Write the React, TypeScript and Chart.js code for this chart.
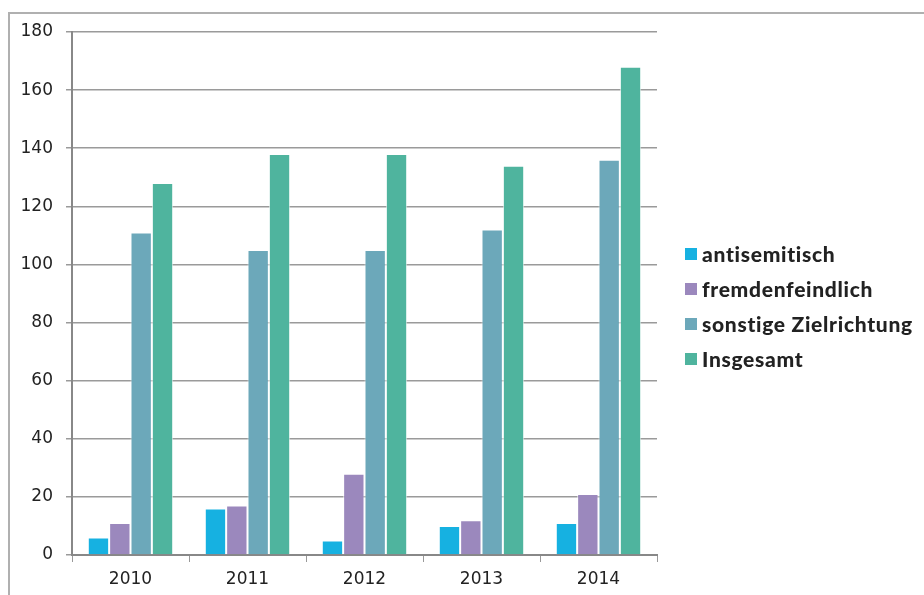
import React, { useEffect, useRef } from "react";
import { Chart, registerables } from "chart.js";

Chart.register(...registerables);

const categories = ["2010", "2011", "2012", "2013", "2014"];
const antisemitisch = [6, 16, 5, 10, 11];
const fremdenfeindlich = [11, 17, 28, 12, 21];
const sonstige = [111, 105, 105, 112, 136];
const insgesamt = [128, 138, 138, 134, 168];
const seriesNames = ["antisemitisch", "fremdenfeindlich", "sonstige Zielrichtung", "Insgesamt"];
const seriesColors = ["#16B1E1", "#9B88BD", "#6CA8BA", "#4FB49E"];
const yTicks = [0, 20, 40, 60, 80, 100, 120, 140, 160, 180];

export default function App() {
  const ref = useRef<HTMLCanvasElement | null>(null);
  useEffect(() => {
    if (!ref.current) return;
    const values = [antisemitisch, fremdenfeindlich, sonstige, insgesamt];
    const chart = new Chart(ref.current, {
      type: "bar",
      data: {
        labels: categories,
        datasets: values.map((v, i) => ({
          label: seriesNames[i],
          data: v,
          backgroundColor: seriesColors[i],
          borderColor: "rgba(255,255,255,0.7)",
          borderWidth: 1,
          borderSkipped: "bottom",
          categoryPercentage: 0.73,
          barPercentage: 1,
        })),
      },
      options: {
        animation: false,
        responsive: false,
        maintainAspectRatio: false,
        layout: { padding: { top: 32, right: 267, left: 0, bottom: 0 } },
        plugins: { legend: { display: false }, tooltip: { enabled: false } },
        scales: {
          x: {
            grid: {
              offset: true,
              drawOnChartArea: false,
              drawTicks: true,
              tickLength: 7,
              color: "#999",
            },
            border: { color: "#888", width: 2 },
            ticks: { color: "#222", font: { family: "DejaVu Sans", size: 17 }, padding: 7 },
            afterFit: (s: any) => { s.height = 40; },
          },
          y: {
            min: 0,
            max: 180,
            afterBuildTicks: (s: any) => { s.ticks = yTicks.map((v) => ({ value: v })); },
            grid: { color: "#9a9a9a", lineWidth: 1.5, tickLength: 6 },
            border: { color: "#888", width: 2 },
            ticks: { color: "#222", font: { family: "DejaVu Sans", size: 17 }, padding: 13 },
            afterFit: (s: any) => { s.width = 72; },
          },
        },
      },
    });
    return () => chart.destroy();
  }, []);

  return (
    <div style={{ position: "fixed", left: 0, top: 0, width: 924, height: 595, background: "#fff", overflow: "hidden" }}>
      <div style={{ position: "absolute", left: 8, top: 12, width: 1000, height: 700, borderLeft: "2px solid #b0b0b0", borderTop: "2px solid #b0b0b0" }} />
      <canvas ref={ref} width={924} height={595} style={{ position: "absolute", left: 0, top: 0 }} />
      <div style={{ position: "absolute", left: 685, top: 236, fontFamily: "Lato", fontWeight: 900, fontSize: 21, letterSpacing: 0.7, color: "#222", whiteSpace: "nowrap" }}>
        {seriesNames.map((n, i) => (
          <div key={n} style={{ display: "flex", alignItems: "center", height: 35 }}>
            <span style={{ display: "inline-block", width: 12, height: 12, background: seriesColors[i], marginRight: 5, flexShrink: 0 }} />
            <span>{n}</span>
          </div>
        ))}
      </div>
    </div>
  );
}
